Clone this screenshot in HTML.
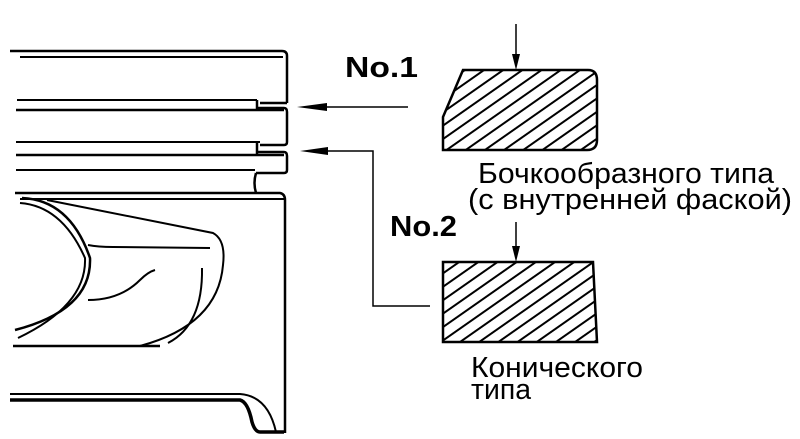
<!DOCTYPE html>
<html><head><meta charset="utf-8"><style>
html,body{margin:0;padding:0;background:#fff;}
svg{display:block;}
text{font-family:"Liberation Sans",Arial,sans-serif;fill:#000;}
</style></head><body>
<svg width="800" height="439" viewBox="0 0 800 439" xmlns="http://www.w3.org/2000/svg">
<defs>
<pattern id="h" patternUnits="userSpaceOnUse" width="11" height="11" patternTransform="rotate(-35)">
<line x1="0" y1="5" x2="11" y2="5" stroke="#000" stroke-width="2"/>
</pattern>
</defs>
<g fill="none" stroke="#000" stroke-width="2.5">
<path d="M10,51 L282,51 Q287,51 287,56 L287,103"/>
<line x1="20" y1="57" x2="283" y2="57" stroke-width="2"/>
<line x1="17" y1="100" x2="257" y2="100" stroke-width="2"/>
<path d="M257,100 L257,110"/>
<path d="M287,103 L260,103 M258,108 L284,108 Q287,108 287,112 L287,142 Q287,145 284,145 L260,145"/>
<line x1="16" y1="110" x2="284" y2="110"/>
<line x1="16" y1="142" x2="260" y2="142" stroke-width="2"/>
<path d="M257,143 L257,155"/>
<line x1="16" y1="155" x2="284" y2="155"/>
<path d="M258,152 L284,152 Q287,152 287,156 L287,170 Q287,173 284,173 L256,173"/>
<line x1="16" y1="170" x2="255" y2="170" stroke-width="2"/>
<path d="M256,173 Q253,183 256,193"/>
<path d="M15,193 L280,193 Q285,194 285,200 L285,433"/>
<line x1="20" y1="199" x2="284" y2="199" stroke-width="2"/>
<path d="M22,198 Q70,200 90,258 Q92,310 15,330" stroke-width="2.5"/>
<path d="M20,203 Q62,206 85,258 Q87,305 18,338" stroke-width="2"/>
<line x1="13" y1="346" x2="160" y2="346"/>
<path d="M47,200 L213,233 Q226,240 223,265 Q218,325 140,346" stroke-width="2"/>
<path d="M88,245 Q98,247 113,247 L210,248" stroke-width="2"/>
<path d="M88,300 Q120,300 140,280 Q148,272 155,270" stroke-width="2"/>
<path d="M202,268 Q203,325 168,343" stroke-width="2"/>
<path d="M10,394 L240,394 Q268,396 276,432" stroke-width="2"/>
<path d="M10,400 L240,400 Q248,402 252,422 Q255,432 260,432 L284,432" stroke-width="3.5"/>
<line x1="408" y1="107" x2="320" y2="107" stroke-width="1.5"/>
<path d="M430,306 L373,306 L373,151 L320,151" stroke-width="1.5"/>
<line x1="516" y1="24" x2="516" y2="58" stroke-width="1.5"/>
<line x1="516" y1="222" x2="516" y2="250" stroke-width="1.5"/>
</g>
<g fill="#000">
<path d="M297,107 L327,103 L327,111 Z"/>
<path d="M300,151 L328,147 L328,155 Z"/>
<path d="M516,70 L512,54 L520,54 Z"/>
<path d="M516,262 L512,246 L520,246 Z"/>
</g>
<path d="M463,70 L588,70 Q597,70 597,80 L597,140 Q597,150 587,150 L443,150 L443,117 Z" fill="url(#h)" stroke="#000" stroke-width="2.5"/>
<path d="M443,262 L593,262 L597,342 L443,342 Z" fill="url(#h)" stroke="#000" stroke-width="2.5"/>
<text x="345" y="77" style="font-size:29px;font-weight:bold" textLength="73" lengthAdjust="spacingAndGlyphs">No.1</text>
<text x="390" y="236" style="font-size:29px;font-weight:bold" textLength="67" lengthAdjust="spacingAndGlyphs">No.2</text>
<text x="478" y="183" style="font-size:29px" textLength="296" lengthAdjust="spacingAndGlyphs">Бочкообразного типа</text>
<text x="468" y="209" style="font-size:29px" textLength="324" lengthAdjust="spacingAndGlyphs">(с внутренней фаской)</text>
<text x="471" y="377" style="font-size:29px" textLength="172" lengthAdjust="spacingAndGlyphs">Конического</text>
<text x="471" y="399" style="font-size:29px" textLength="60" lengthAdjust="spacingAndGlyphs">типа</text>
</svg>
</body></html>
